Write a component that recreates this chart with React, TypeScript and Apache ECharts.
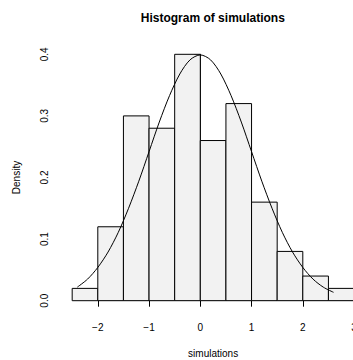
import React, { useEffect, useRef } from "react";
import * as echarts from "echarts";

const binStarts = [-2.5, -2.0, -1.5, -1.0, -0.5, 0.0, 0.5, 1.0, 1.5, 2.0, 2.5];
const binEnds = [-2.0, -1.5, -1.0, -0.5, 0.0, 0.5, 1.0, 1.5, 2.0, 2.5, 3.0];
const densities = [0.02, 0.12, 0.3, 0.28, 0.4, 0.26, 0.32, 0.16, 0.08, 0.04, 0.02];

const curveX = [-2.4, -2.2, -2.0, -1.8, -1.6, -1.4, -1.2, -1.0, -0.8, -0.6, -0.4, -0.2, 0, 0.2, 0.4, 0.6, 0.8, 1.0, 1.2, 1.4, 1.6, 1.8, 2.0, 2.2, 2.4, 2.6];
const curveY = [0.022, 0.035, 0.054, 0.079, 0.111, 0.150, 0.194, 0.242, 0.290, 0.333, 0.368, 0.391, 0.399, 0.391, 0.368, 0.333, 0.290, 0.242, 0.194, 0.150, 0.111, 0.079, 0.054, 0.035, 0.022, 0.0136];

const xTicks = [-2, -1, 0, 1, 2, 3];
const yTicks = [0.0, 0.1, 0.2, 0.3, 0.4];

const FONT = "'Liberation Sans', Arial, Helvetica, sans-serif";

export default function App() {
  const ref = useRef<HTMLDivElement>(null);
  useEffect(() => {
    if (!ref.current) return;
    const chart = echarts.init(ref.current, null, { renderer: "svg" });
    const bars = binStarts.map((s, i) => [s, binEnds[i], densities[i]]);
    const curve = curveX.map((x, i) => [x, curveY[i]]);
    chart.setOption({
      animation: false,
      backgroundColor: "#ffffff",
      title: {
        text: "Histogram of simulations",
        left: 212.8,
        textAlign: "center",
        top: 12,
        padding: 0,
        textStyle: { fontFamily: FONT, fontSize: 12, fontWeight: "bold", color: "#000" },
      },
      grid: { left: 97.8, top: 54.3, width: 256.25, height: 246.4, outerBoundsMode: "none", containLabel: false },
      xAxis: {
        type: "value",
        min: xTicks[0],
        max: xTicks[xTicks.length - 1],
        interval: 1,
        offset: 10,
        axisLine: { show: true, lineStyle: { color: "#000", width: 1 } },
        axisTick: { show: true, length: 6, lineStyle: { color: "#000" } },
        axisLabel: {
          margin: 12,
          color: "#000",
          fontFamily: FONT,
          fontSize: 10,
          showMinLabel: true,
          showMaxLabel: true,
          hideOverlap: false,
          formatter: (v: number) => (v < 0 ? "\u2212" + Math.abs(v) : String(v)),
        },
        splitLine: { show: false },
        name: "simulations",
        nameLocation: "middle",
        nameGap: 38,
        nameTextStyle: { fontFamily: FONT, fontSize: 10, color: "#000", padding: [0, 25.6, 0, 0] },
      },
      yAxis: {
        type: "value",
        min: yTicks[0],
        max: yTicks[yTicks.length - 1],
        interval: 0.1,
        offset: 36.8,
        axisLine: { show: true, lineStyle: { color: "#000", width: 1 } },
        axisTick: { show: true, length: 6, lineStyle: { color: "#000" } },
        axisLabel: {
          rotate: 90,
          margin: 12,
          color: "#000",
          fontFamily: FONT,
          fontSize: 10,
          formatter: (v: number) => v.toFixed(1),
        },
        splitLine: { show: false },
        name: "Density",
        nameLocation: "middle",
        nameRotate: 90,
        nameGap: 40,
        nameTextStyle: { fontFamily: FONT, fontSize: 10, color: "#000" },
      },
      series: [
        {
          type: "custom",
          clip: false,
          data: bars,
          renderItem: (params: any, api: any) => {
            const p1 = api.coord([api.value(0), api.value(2)]);
            const p2 = api.coord([api.value(1), 0]);
            return {
              type: "rect",
              shape: { x: p1[0], y: p1[1], width: p2[0] - p1[0], height: p2[1] - p1[1] },
              style: { fill: "#f2f2f2", stroke: "#000", lineWidth: 1 },
            };
          },
        },
        {
          type: "custom",
          clip: false,
          data: [[0, 0]],
          renderItem: (params: any, api: any) => {
            const pts = curve.map((p) => api.coord(p));
            return {
              type: "polyline",
              shape: { points: pts, smooth: 0.3 },
              style: { fill: "none", stroke: "#000", lineWidth: 1 },
            };
          },
        },
      ],
    });
    return () => chart.dispose();
  }, []);
  return <div ref={ref} style={{ position: "absolute", left: 0, top: 0, width: 353, height: 360 }} />;
}
